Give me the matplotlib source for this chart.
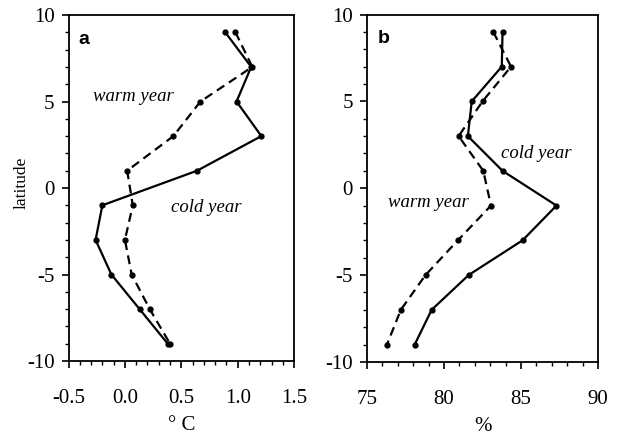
import matplotlib
matplotlib.use('Agg')
import matplotlib.pyplot as plt
from matplotlib.ticker import MultipleLocator

"""
Latitude profiles: temperature anomaly (a) and relative humidity (b), warm vs cold year
"""

lat = [9, 7, 5, 3, 1, -1, -3, -5, -7, -9]

temp_cold = [0.89, 1.12, 0.99, 1.21, 0.64, -0.20, -0.26, -0.12, 0.13, 0.38]
temp_warm = [0.98, 1.13, 0.67, 0.43, 0.02, 0.07, 0.00, 0.06, 0.22, 0.40]

hum_cold = [83.8, 83.75, 81.8, 81.55, 83.8, 87.3, 85.1, 81.6, 79.2, 78.1]
hum_warm = [83.2, 84.35, 82.5, 80.95, 82.55, 83.05, 80.9, 78.8, 77.2, 76.3]

serif = 'Liberation Serif'
sans = 'Liberation Sans'

plt.rcParams['axes.unicode_minus'] = False

fig = plt.figure(figsize=(6.23, 4.36), dpi=100)
ax_a = fig.add_axes([0.110, 0.172, 0.362, 0.7936])
ax_b = fig.add_axes([0.589, 0.170, 0.371, 0.7966])


def style_axis(ax, xlim, xmajor, xminor):
    ax.set_xlim(*xlim)
    ax.set_ylim(-10, 10)
    ax.xaxis.set_major_locator(MultipleLocator(xmajor))
    ax.xaxis.set_minor_locator(MultipleLocator(xminor))
    ax.yaxis.set_major_locator(MultipleLocator(5))
    ax.yaxis.set_minor_locator(MultipleLocator(1))
    ax.tick_params(which='major', direction='out', length=5, width=1.2,
                   labelsize=15)
    ax.tick_params(axis='x', which='major', pad=15)
    ax.tick_params(axis='y', which='major', pad=5)
    ax.tick_params(which='minor', direction='out', length=3, width=1.0)
    for sp in ax.spines.values():
        sp.set_linewidth(1.3)


def draw(ax, cold, warm):
    ax.plot(cold, lat, color='black', lw=1.6, ls='-', marker='o', ms=3.5)
    ax.plot(warm, lat, color='black', lw=1.6, ls=(0, (4, 2.5)), marker='o', ms=3.5)


def serif_ticks(ax):
    for lab in ax.get_xticklabels() + ax.get_yticklabels():
        lab.set_fontfamily(serif)


draw(ax_a, temp_cold, temp_warm)
style_axis(ax_a, (-0.5, 1.5), 0.5, 0.1)
ax_a.xaxis.set_major_formatter(plt.FuncFormatter(lambda v, p: f'{v:.1f}'))
serif_ticks(ax_a)
ax_a.set_ylabel('latitude', fontsize=12.5, fontfamily=serif)
ax_a.yaxis.set_label_coords(-0.172, 0.515)
ax_a.set_xlabel('\u00b0 C', fontsize=15, fontfamily=serif, labelpad=6)
ax_a.text(0.045, 0.955, 'a', transform=ax_a.transAxes, fontsize=14,
          fontweight='bold', fontfamily=sans, va='top', ha='left')
ax_a.text(-0.28, 5.3, 'warm year', fontsize=13.5, fontstyle='italic',
          fontfamily=serif, va='center', ha='left')
ax_a.text(0.41, -1.15, 'cold year', fontsize=13.5, fontstyle='italic',
          fontfamily=serif, va='center', ha='left')

draw(ax_b, hum_cold, hum_warm)
style_axis(ax_b, (75, 90), 5, 1)
serif_ticks(ax_b)
ax_b.set_xlabel('%', fontsize=15, fontfamily=serif, labelpad=6)
ax_b.text(0.045, 0.955, 'b', transform=ax_b.transAxes, fontsize=14,
          fontweight='bold', fontfamily=sans, va='top', ha='left')
ax_b.text(83.7, 2.0, 'cold year', fontsize=13.5, fontstyle='italic',
          fontfamily=serif, va='center', ha='left')
ax_b.text(76.35, -0.8, 'warm year', fontsize=13.5, fontstyle='italic',
          fontfamily=serif, va='center', ha='left')

fig.savefig('out.png', dpi=100)
